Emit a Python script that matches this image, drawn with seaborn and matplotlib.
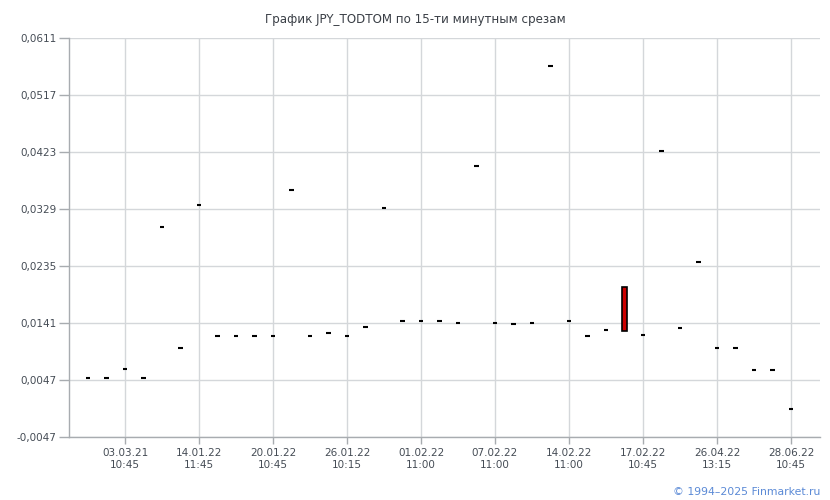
import numpy as np
import matplotlib
matplotlib.use("Agg")
import matplotlib.pyplot as plt
import seaborn as sns

# Данные свечей (open / close), 39 срезов
opens = [0.0050, 0.0050, 0.0065, 0.0050, 0.0299, 0.0099, 0.0336, 0.0120, 0.0120, 0.0120,
         0.0120, 0.0360, 0.0120, 0.0124, 0.0120, 0.0134, 0.0331, 0.0144, 0.0144, 0.0144,
         0.0141, 0.0400, 0.0141, 0.0139, 0.0141, 0.0565, 0.0144, 0.0120, 0.0129, 0.0200,
         0.0121, 0.0424, 0.0132, 0.0242, 0.0099, 0.0099, 0.0064, 0.0064, -0.0001]
closes = [0.0050, 0.0050, 0.0065, 0.0050, 0.0299, 0.0099, 0.0336, 0.0120, 0.0120, 0.0120,
          0.0120, 0.0360, 0.0120, 0.0124, 0.0120, 0.0134, 0.0331, 0.0144, 0.0144, 0.0144,
          0.0141, 0.0400, 0.0141, 0.0139, 0.0141, 0.0565, 0.0144, 0.0120, 0.0129, 0.0128,
          0.0121, 0.0424, 0.0132, 0.0242, 0.0099, 0.0099, 0.0064, 0.0064, -0.0001]

tick_idx = [2, 6, 10, 14, 18, 22, 26, 30, 34, 38]
tick_labels = ["03.03.21\n10:45", "14.01.22\n11:45", "20.01.22\n10:45", "26.01.22\n10:15",
               "01.02.22\n11:00", "07.02.22\n11:00", "14.02.22\n11:00", "17.02.22\n10:45",
               "26.04.22\n13:15", "28.06.22\n10:45"]
y_ticks = [-0.0047, 0.0047, 0.0141, 0.0235, 0.0329, 0.0423, 0.0517, 0.0611]

sns.set_style("whitegrid")
plt.rcParams['font.family'] = ['DejaVu Sans']

fig = plt.figure(figsize=(8.3, 5), dpi=100)
ax = fig.add_axes([69 / 830, 63 / 500, 751 / 830, 399 / 500])

x = np.arange(len(opens))
o = np.array(opens)
c = np.array(closes)
doji = np.isclose(o, c)

# доджи - короткие черные штрихи
ax.hlines(c[doji], x[doji] - 0.12, x[doji] + 0.12, color="black", lw=1.5, zorder=3)

# свечи с телом
body = ~doji
colors = np.where(c[body] < o[body], "#cc0000", "#00a000")
ax.bar(x[body], np.abs(c[body] - o[body]), bottom=np.minimum(o[body], c[body]),
       width=0.22, color=colors, edgecolor="black", lw=1.2, zorder=3)

ax.set_xlim(-1.03, 39.57)
ax.set_ylim(y_ticks[0], y_ticks[-1])
ax.set_yticks(y_ticks)
ax.set_yticklabels([f"{v:.4f}".replace(".", ",") for v in y_ticks])
ax.set_xticks(tick_idx)
ax.set_xticklabels(tick_labels)

ax.grid(True, color="#d4d7da", lw=1)
for s in ["top", "right"]:
    ax.spines[s].set_visible(False)
for s in ["left", "bottom"]:
    ax.spines[s].set_color("#a8acb0")
    ax.spines[s].set_linewidth(1)
ax.tick_params(axis="both", width=1, color="#a8acb0", labelsize=7.5,
               labelcolor="#454c55", direction="out", left=True, bottom=True)
ax.tick_params(axis="y", length=7, pad=2)
ax.tick_params(axis="x", length=5, pad=3)
for lbl in ax.get_xticklabels():
    lbl.set_linespacing(1.25)

fig.text(0.5, 0.962, "График JPY_TODTOM по 15-ти минутным срезам", ha="center", va="center",
         fontsize=8.6, color="#3a3f46")
fig.text(0.988, 0.016, "© 1994–2025 Finmarket.ru", ha="right", va="center",
         fontsize=7.8, color="#5b8ad6")

plt.savefig("out.png", dpi=100)
